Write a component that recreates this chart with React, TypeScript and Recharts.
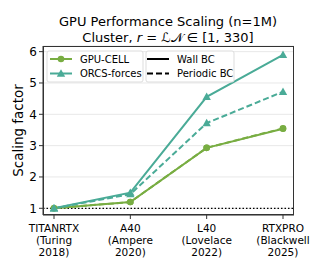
import React from "react";
import { LineChart, Line, XAxis, YAxis, CartesianGrid, ReferenceLine } from "recharts";

const categories = ["TITANRTX|(Turing|2018)", "A40|(Ampere|2020)", "L40|(Lovelace|2022)", "RTXPRO|(Blackwell|2025)"];
const gpuCellWall = [1, 1.2, 2.93, 3.54];
const gpuCellPeriodic = [1, 1.2, 2.93, 3.55];
const orcsWall = [1, 1.5, 4.56, 5.9];
const orcsPeriodic = [1, 1.45, 3.72, 4.72];
const yTicks = [1, 2, 3, 4, 5, 6];

const data = categories.map((c, i) => ({
  name: c,
  gw: gpuCellWall[i],
  gp: gpuCellPeriodic[i],
  ow: orcsWall[i],
  op: orcsPeriodic[i],
}));

const GREEN = "#78ad42";
const TEAL = "#4aab97";
const FONT = "DejaVu Sans, sans-serif";

const Tri = (props: any) => {
  const { cx, cy, fill } = props;
  if (cx == null || cy == null) return null;
  const s = 4.2;
  return <path d={`M${cx},${cy - s} L${cx + s},${cy + s * 0.75} L${cx - s},${cy + s * 0.75} Z`} fill={fill} />;
};

const XTick = (props: any) => {
  const { x, y, payload } = props;
  const lines = String(payload.value).split("|");
  return (
    <text x={x} y={y} textAnchor="middle" fontSize={10.5} fontFamily={FONT} fill="#000">
      {lines.map((l, i) => (
        <tspan key={i} x={x} dy={i === 0 ? 11 : 11.8}>
          {l}
        </tspan>
      ))}
    </text>
  );
};

export default function App() {
  return (
    <div style={{ position: "fixed", left: 0, top: 0, width: 324, height: 270, background: "#fff", fontFamily: FONT }}>
      <LineChart width={324} height={270} data={data} margin={{ top: 46, right: 30, bottom: 0, left: 0 }}>
        <CartesianGrid horizontal vertical={false} stroke="#e8e8e8" strokeWidth={1} />
        <XAxis
          dataKey="name"
          padding={{ left: 11, right: 11 }}
          height={55}
          tick={<XTick />}
          tickSize={4}
          tickLine={{ stroke: "#333" }}
          axisLine={{ stroke: "#333" }}
          interval={0}
        />
        <YAxis
          domain={[0.786, 6.18]}
          ticks={yTicks}
          width={43}
          tickSize={4}
          tickLine={{ stroke: "#333" }}
          axisLine={{ stroke: "#333" }}
          tick={{ fontSize: 12, fontFamily: FONT, fill: "#000" }}
          allowDataOverflow
          label={{ value: "Scaling factor", angle: -90, position: "insideLeft", dx: 13, dy: 0, style: { textAnchor: "middle", fontSize: 13.5, fontFamily: FONT, fill: "#000" } }}
        />
        <ReferenceLine y={1} stroke="#000" strokeDasharray="1.5 2" strokeWidth={1.2} />
        <Line dataKey="gp" stroke={GREEN} strokeWidth={2} strokeDasharray="6 3" dot={{ r: 3.3, fill: GREEN, stroke: GREEN, strokeWidth: 0 }} isAnimationActive={false} />
        <Line dataKey="gw" stroke={GREEN} strokeWidth={2} dot={{ r: 3.3, fill: GREEN, stroke: GREEN, strokeWidth: 0 }} isAnimationActive={false} />
        <Line dataKey="op" stroke={TEAL} strokeWidth={2} strokeDasharray="6 3" dot={<Tri fill={TEAL} />} isAnimationActive={false} />
        <Line dataKey="ow" stroke={TEAL} strokeWidth={2} dot={<Tri fill={TEAL} />} isAnimationActive={false} />
      </LineChart>
      <div style={{ position: "absolute", left: 43, top: 46, width: 251, height: 169, border: "1px solid #333", boxSizing: "border-box", pointerEvents: "none" }} />
      <svg width={324} height={270} style={{ position: "absolute", left: 0, top: 0, pointerEvents: "none" }}>
        <text x={168} y={25.5} textAnchor="middle" fontSize={13} fontFamily={FONT} fill="#000">
          GPU Performance Scaling (n=1M)
        </text>
        <text x={168} y={41.5} textAnchor="middle" fontSize={13} fontFamily={FONT} fill="#000">
          Cluster, <tspan fontStyle="italic">r</tspan> = ℒ𝒩 ∈ [1, 330]
        </text>
        <rect x={47} y={51} width={96} height={31} rx={2} fill="#fff" fillOpacity={0.85} stroke="#ddd" />
        <line x1={50} y1={59} x2={72} y2={59} stroke={GREEN} strokeWidth={2} />
        <circle cx={61} cy={59} r={3.3} fill={GREEN} />
        <text x={80} y={62.5} fontSize={10} fontFamily={FONT} fill="#000">GPU-CELL</text>
        <line x1={50} y1={73.5} x2={72} y2={73.5} stroke={TEAL} strokeWidth={2} />
        <Tri cx={61} cy={73.5} fill={TEAL} />
        <text x={80} y={77} fontSize={10} fontFamily={FONT} fill="#000">ORCS-forces</text>
        <rect x={146} y={51} width={88} height={31} rx={2} fill="#fff" fillOpacity={0.85} stroke="#ddd" />
        <line x1={147} y1={59} x2={169} y2={59} stroke="#000" strokeWidth={2} />
        <text x={177} y={62.5} fontSize={10} fontFamily={FONT} fill="#000">Wall BC</text>
        <line x1={147} y1={73.5} x2={169} y2={73.5} stroke="#000" strokeWidth={2} strokeDasharray="6 3" />
        <text x={177} y={77} fontSize={10} fontFamily={FONT} fill="#000">Periodic BC</text>
      </svg>
    </div>
  );
}
